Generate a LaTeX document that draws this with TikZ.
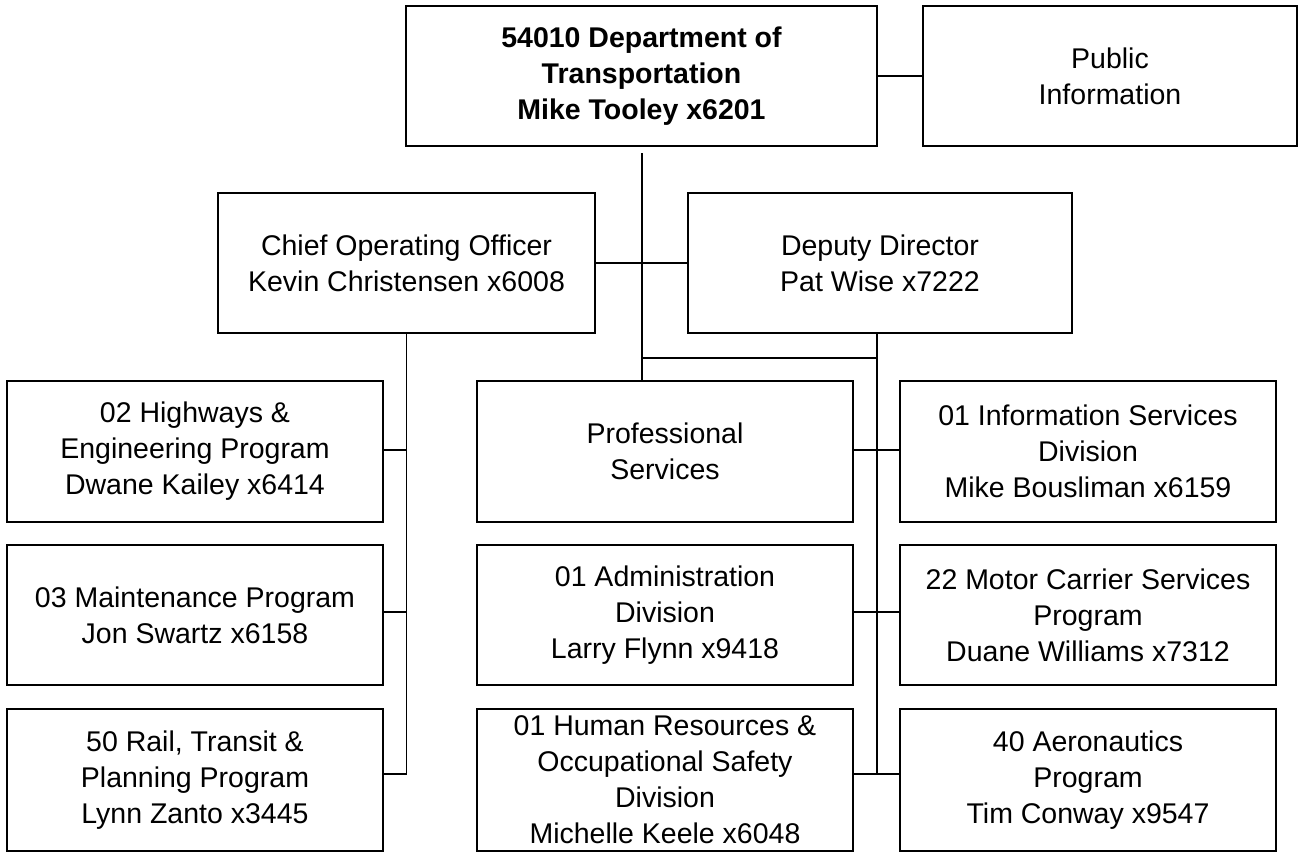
\documentclass[tikz,border=0pt]{standalone}
\usepackage{fontspec}
\setmainfont{Liberation Sans}
\begin{document}
\begin{tikzpicture}[x=1pt,y=-1pt,
  box/.style={draw,line width=1.6pt,align=center,inner sep=0pt,
    font=\fontsize{28.5}{36}\selectfont},
  conn/.style={line width=1.6pt}]
\useasboundingbox (0,0) rectangle (1299,852);
\fill[white] (0,0) rectangle (1299,852);
% top row
\node[box,minimum width=471pt,minimum height=140pt,font=\fontsize{28.5}{36}\selectfont\bfseries] (top) at (641.5,76) {54010 Department of\\Transportation\\Mike Tooley x6201};
\node[box,minimum width=374pt,minimum height=140pt] (pub) at (1110,76) {Public\\Information};
% second row
\node[box,minimum width=377pt,minimum height=140pt] (coo) at (406.5,263) {Chief Operating Officer\\Kevin Christensen x6008};
\node[box,minimum width=384pt,minimum height=140pt] (dep) at (880,263) {Deputy Director\\Pat Wise x7222};
% left column
\node[box,minimum width=376pt,minimum height=141pt] (l1) at (195,451.5) {02 Highways \&\\Engineering Program\\Dwane Kailey x6414};
\node[box,minimum width=376pt,minimum height=140pt] (l2) at (195,615) {03 Maintenance Program\\Jon Swartz x6158};
\node[box,minimum width=376pt,minimum height=142pt] (l3) at (195,780) {50 Rail, Transit \&\\Planning Program\\Lynn Zanto x3445};
% middle column
\node[box,minimum width=376pt,minimum height=141pt] (m1) at (665,451.5) {Professional\\Services};
\node[box,minimum width=376pt,minimum height=140pt] (m2) at (665,615) {01 Administration\\Division\\Larry Flynn x9418};
\node[box,minimum width=376pt,minimum height=142pt] (m3) at (665,780) {01 Human Resources \&\\Occupational Safety\\Division\\Michelle Keele x6048};
% right column
\node[box,minimum width=376pt,minimum height=141pt] (r1) at (1088,451.5) {01 Information Services\\Division\\Mike Bousliman x6159};
\node[box,minimum width=376pt,minimum height=140pt] (r2) at (1088,615) {22 Motor Carrier Services\\Program\\Duane Williams x7312};
\node[box,minimum width=376pt,minimum height=142pt] (r3) at (1088,780) {40 Aeronautics\\Program\\Tim Conway x9547};
% connectors
\coordinate (tbus) at (642,153);
\coordinate (dbus) at (877,333);
\coordinate (cbus) at (coo.south);
\draw[conn] (top.east) -- (pub.west);
\draw[conn] (tbus) -- (tbus |- m1.north);
\draw[conn] (coo.east) -- (dep.west);
\draw[conn] (tbus |- 0,358) -- (dbus |- 0,358);
\draw[conn] (dbus) -- (dbus |- 0,774);
\draw[conn] (cbus) -- (cbus |- 0,774);
\draw[conn] (l1.east |- 0,450) -- (cbus |- 0,450);
\draw[conn] (l2.east |- 0,612) -- (cbus |- 0,612);
\draw[conn] (l3.east |- 0,774) -- (cbus |- 0,774);
\draw[conn] (m1.east |- 0,450) -- (r1.west |- 0,450);
\draw[conn] (m2.east |- 0,612) -- (r2.west |- 0,612);
\draw[conn] (m3.east |- 0,774) -- (r3.west |- 0,774);
\end{tikzpicture}
\end{document}
